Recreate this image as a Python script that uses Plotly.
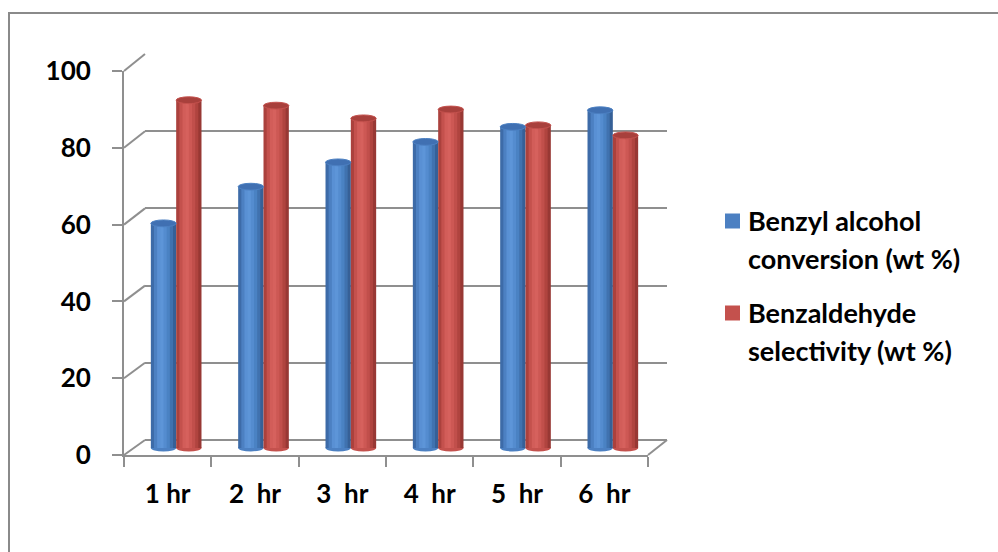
import plotly.graph_objects as go

# ---- data ----
hours = ["1 hr", "2\u00a0 hr", "3\u00a0 hr", "4\u00a0 hr", "5\u00a0 hr", "6\u00a0 hr"]
conversion = [58.2, 67.7, 74.0, 79.3, 83.2, 87.5]      # Benzyl alcohol conversion (wt %)
selectivity = [90.1, 88.7, 85.4, 87.7, 83.6, 81.0]     # Benzaldehyde selectivity (wt %)
y_ticks = [0, 20, 40, 60, 80, 100]

W, H = 998, 552
FONT = "Lato"
GRID = "#8f8f8f"


def fx(p):
    return p / W


def fy(p):
    return 1 - p / H


# pseudo-3D frame geometry (pixels): front plane, back wall, middle plane for the cylinders
FRONT = dict(x0=124, x1=648, y0=455, y100=71)
BACK = dict(x0=145, x1=667, y0=440, y100=54)
MID = dict(x0=132.5, x1=656.5, y0=448, y100=62)
mid_scale = (MID["y0"] - MID["y100"]) / 100.0
mid_low = -2.0

blue_shades = ["#3d6ba8", "#4c80c2", "#5990d4", "#5d95d8", "#548ccf", "#4a82c3", "#4072af", "#366097"]
red_shades = ["#ab413d", "#c4514d", "#d25d59", "#d6615d", "#cd5854", "#c14f4b", "#b0443f", "#983834"]

BAR_W = 0.29
N = len(blue_shades)

fig = go.Figure()

# front axes carry the tick labels
fig.add_trace(go.Bar(x=hours, y=[None] * len(hours), xaxis="x", yaxis="y",
                     showlegend=False, hoverinfo="skip"))

# back wall: gridlines only
fig.add_trace(go.Scatter(x=[0, 1], y=[None, None], xaxis="x2", yaxis="y2",
                         showlegend=False, hoverinfo="skip", mode="lines"))

# cylinders, built from vertical shaded strips
cats = list(range(len(hours)))
for values, shades, left in ((conversion, blue_shades, -BAR_W), (selectivity, red_shades, 0.0)):
    step = BAR_W / N
    for i, c in enumerate(shades):
        w = step * 1.25 if i < N - 1 else step
        fig.add_trace(go.Bar(
            x=cats, y=values, xaxis="x3", yaxis="y3",
            offset=left + i * step, width=w,
            marker=dict(color=c, line=dict(width=0)),
            showlegend=False, hoverinfo="skip"))

shapes = []
ell_h = 3.4 / mid_scale  # half-height of the cylinder caps in data units
for values, left, body, top in ((conversion, -BAR_W, "#4c80c2", "#4070b2"),
                                (selectivity, 0.0, "#c4514d", "#a8403c")):
    for c, v in zip(cats, values):
        # rounded base
        shapes.append(dict(type="circle", xref="x3", yref="y3", layer="below",
                           x0=c + left, x1=c + left + BAR_W, y0=-ell_h, y1=ell_h,
                           fillcolor=body, line=dict(width=0)))
        # top cap
        shapes.append(dict(type="circle", xref="x3", yref="y3",
                           x0=c + left, x1=c + left + BAR_W, y0=v - ell_h, y1=v + ell_h,
                           fillcolor=top, line=dict(color=body, width=1)))

# diagonal connectors between front axis ticks and back wall gridlines
for v in y_ticks:
    yf = FRONT["y0"] - (FRONT["y0"] - FRONT["y100"]) * v / 100
    yb = BACK["y0"] - (BACK["y0"] - BACK["y100"]) * v / 100
    shapes.append(dict(type="line", xref="paper", yref="paper",
                       x0=fx(FRONT["x0"]), y0=fy(yf), x1=fx(BACK["x0"]), y1=fy(yb),
                       line=dict(color=GRID, width=2)))
# right edge of the floor
shapes.append(dict(type="line", xref="paper", yref="paper",
                   x0=fx(FRONT["x1"]), y0=fy(FRONT["y0"]), x1=fx(BACK["x1"]), y1=fy(BACK["y0"]),
                   line=dict(color=GRID, width=2)))

# chart area border
shapes.append(dict(type="rect", xref="paper", yref="paper",
                   x0=fx(9), y0=fy(13), x1=1.05, y1=-0.05,
                   line=dict(color="#8a8a8a", width=2), fillcolor="rgba(0,0,0,0)"))

# legend
legend_items = [
    ("#4c80c2", ["Benzyl alcohol", "conversion (wt %)"], 221),
    ("#c4514d", ["Benzaldehyde", "selectivity (wt %)"], 313),
]
annotations = []
for color, lines, ytop in legend_items:
    shapes.append(dict(type="rect", xref="paper", yref="paper",
                       x0=fx(725), x1=fx(740), y0=fy(ytop - 7.5), y1=fy(ytop + 7.5),
                       fillcolor=color, line=dict(width=0)))
    for k, t in enumerate(lines):
        annotations.append(dict(text=t, xref="paper", yref="paper",
                                x=fx(746), y=fy(ytop - 1 + 38 * k), xanchor="left", yanchor="middle",
                                showarrow=False,
                                font=dict(family=FONT, size=27, color="#000000", weight="bold")))

tick_font = dict(family=FONT, size=26, color="#000000", weight="bold")

fig.update_layout(
    width=W, height=H,
    margin=dict(l=0, r=0, t=0, b=0, autoexpand=False),
    paper_bgcolor="white", plot_bgcolor="rgba(0,0,0,0)",
    barmode="overlay",
    showlegend=False,
    xaxis=dict(domain=[fx(FRONT["x0"]), fx(FRONT["x1"])], anchor="y", type="category",
               categoryorder="array", categoryarray=hours, automargin=False,
               showline=True, linecolor=GRID, linewidth=2,
               ticks="outside", tickson="boundaries", ticklen=10, tickwidth=2, tickcolor=GRID,
               showgrid=False, tickfont=tick_font, ticklabelstandoff=15, fixedrange=True),
    yaxis=dict(domain=[fy(FRONT["y0"]), fy(FRONT["y100"])], anchor="x", range=[0, 100],
               tickvals=y_ticks, showline=True, linecolor=GRID, linewidth=2, automargin=False,
               ticks="outside", ticklen=10, tickwidth=2, tickcolor=GRID,
               showgrid=False, zeroline=False, tickfont=tick_font, ticklabelstandoff=16,
               fixedrange=True),
    xaxis2=dict(domain=[fx(BACK["x0"]), fx(BACK["x1"])], anchor="y2", range=[0, 1],
                visible=False, fixedrange=True, automargin=False),
    yaxis2=dict(domain=[fy(BACK["y0"]), fy(BACK["y100"])], anchor="x2", range=[0, 100],
                tickvals=y_ticks, showticklabels=False, ticks="", automargin=False,
                showgrid=True, gridcolor=GRID, gridwidth=2,
                zeroline=True, zerolinecolor=GRID, zerolinewidth=2,
                showline=False, fixedrange=True),
    xaxis3=dict(domain=[fx(MID["x0"]), fx(MID["x1"])], anchor="y3", range=[-0.5, 5.5],
                visible=False, fixedrange=True, automargin=False),
    yaxis3=dict(domain=[fy(MID["y0"] - mid_low * mid_scale), fy(MID["y100"])], anchor="x3",
                range=[mid_low, 100], visible=False, fixedrange=True, automargin=False),
    shapes=shapes,
    annotations=annotations,
)

fig.write_html("out.html")
